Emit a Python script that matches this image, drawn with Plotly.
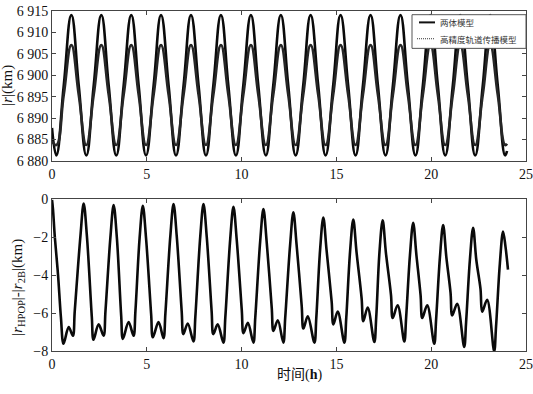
import plotly.graph_objects as go

# ---- top panel: orbit radius (km) ----
t_orbit = [0.00,
           0.23, 0.62, 1.02, 1.41,
           1.81, 2.20, 2.60, 2.99,
           3.39, 3.78, 4.18, 4.57,
           4.96, 5.36, 5.75, 6.15,
           6.54, 6.94, 7.33, 7.73,
           8.12, 8.51, 8.91, 9.30,
           9.70, 10.09, 10.49, 10.88,
           11.28, 11.67, 12.07, 12.46,
           12.85, 13.25, 13.64, 14.04,
           14.43, 14.83, 15.22, 15.62,
           16.01, 16.40, 16.80, 17.19,
           17.59, 17.98, 18.38, 18.77,
           19.17, 19.56, 19.96, 20.35,
           20.74, 21.14, 21.53, 21.93,
           22.32, 22.72, 23.11, 23.51,
           23.90, 24.00]

r_2b = [6887.7,
        6881.3, 6897.6, 6914.0, 6897.6,
        6881.3, 6897.6, 6914.0, 6897.6,
        6881.3, 6897.6, 6914.0, 6897.6,
        6881.3, 6897.6, 6914.0, 6897.6,
        6881.3, 6897.6, 6914.0, 6897.6,
        6881.3, 6897.6, 6914.0, 6897.6,
        6881.3, 6897.6, 6914.0, 6897.6,
        6881.3, 6897.6, 6914.0, 6897.6,
        6881.3, 6897.6, 6914.0, 6897.6,
        6881.3, 6897.6, 6914.0, 6897.6,
        6881.3, 6897.6, 6914.0, 6897.6,
        6881.3, 6897.6, 6914.0, 6897.6,
        6881.3, 6897.6, 6914.0, 6897.6,
        6881.3, 6897.6, 6914.0, 6897.6,
        6881.3, 6897.6, 6914.0, 6897.6,
        6881.3, 6882.3]

r_hpop = [6884.6,
          6883.7, 6895.4, 6907.0, 6895.4,
          6883.7, 6895.4, 6907.0, 6895.4,
          6883.7, 6895.4, 6907.0, 6895.4,
          6883.7, 6895.4, 6907.0, 6895.4,
          6883.7, 6895.4, 6907.0, 6895.4,
          6883.7, 6895.4, 6907.0, 6895.4,
          6883.7, 6895.4, 6907.0, 6895.4,
          6883.7, 6895.4, 6907.0, 6895.4,
          6883.7, 6895.4, 6907.0, 6895.4,
          6883.7, 6895.4, 6907.0, 6895.4,
          6883.7, 6895.4, 6907.0, 6895.4,
          6883.7, 6895.4, 6907.0, 6895.4,
          6883.7, 6895.4, 6907.0, 6895.4,
          6883.7, 6895.4, 6907.0, 6895.4,
          6883.7, 6895.4, 6907.0, 6895.4,
          6883.7, 6884.0]

# ---- bottom panel: |r_HPOP| - |r_2B| (km) ----
t_diff = [0.00, 0.05, 0.15, 0.32, 0.47, 0.61, 0.88, 1.10, 1.20, 1.50,
          1.67, 1.84, 2.10, 2.19, 2.46, 2.72, 2.82, 3.08,
          3.25, 3.42, 3.65, 3.74, 4.04, 4.30, 4.40, 4.62,
          4.79, 4.96, 5.23, 5.32, 5.62, 5.88, 5.98, 6.24,
          6.41, 6.58, 6.84, 6.93, 7.16, 7.46, 7.56, 7.82,
          7.99, 8.16, 8.42, 8.51, 8.74, 9.04, 9.14, 9.40,
          9.57, 9.74, 10.01, 10.10, 10.33, 10.62, 10.72, 10.98,
          11.15, 11.32, 11.59, 11.68, 11.91, 12.20, 12.30, 12.56,
          12.73, 12.90, 13.17, 13.26, 13.49, 13.84, 13.94, 14.14,
          14.31, 14.48, 14.75, 14.84, 15.07, 15.42, 15.52, 15.72,
          15.89, 16.06, 16.33, 16.42, 16.65, 17.00, 17.10, 17.27,
          17.44, 17.61, 17.88, 17.97, 18.23, 18.58, 18.68, 18.88,
          19.05, 19.22, 19.44, 19.53, 19.79, 20.16, 20.26, 20.46,
          20.63, 20.80, 21.02, 21.11, 21.37, 21.74, 21.84, 22.04,
          22.21, 22.38, 22.60, 22.69, 22.95, 23.32, 23.42, 23.62,
          23.79, 23.92, 24.05]

dr = [-0.02, -0.50, -2.00, -4.00, -6.20, -7.60, -6.72, -7.18, -5.88, -1.92,
      -0.22, -1.92, -6.19, -7.39, -6.58, -7.18, -5.88, -2.00,
      -0.30, -2.00, -6.14, -7.34, -6.46, -7.18, -5.88, -2.04,
      -0.34, -2.04, -6.06, -7.26, -6.46, -7.31, -6.01, -1.95,
      -0.25, -1.95, -5.89, -7.09, -6.53, -7.48, -6.18, -1.95,
      -0.25, -1.95, -5.89, -7.09, -6.58, -7.54, -6.24, -2.09,
      -0.39, -2.09, -5.84, -7.04, -6.50, -7.54, -6.24, -2.21,
      -0.51, -2.21, -5.72, -6.92, -6.36, -7.54, -6.24, -2.38,
      -0.68, -2.38, -5.60, -6.80, -6.16, -7.54, -6.24, -2.66,
      -0.96, -2.66, -5.38, -6.58, -5.91, -7.54, -6.24, -2.76,
      -1.06, -2.76, -5.21, -6.41, -5.69, -7.51, -6.21, -2.80,
      -1.10, -2.80, -5.04, -6.24, -5.57, -7.48, -6.18, -2.93,
      -1.23, -2.93, -5.04, -6.24, -5.57, -7.60, -6.30, -3.05,
      -1.35, -3.05, -4.91, -6.11, -5.49, -7.77, -6.47, -3.19,
      -1.49, -3.19, -4.71, -5.91, -5.28, -8.00, -6.70, -3.39,
      -1.69, -2.50, -3.70]

legend_names = ["两体模型", "高精度轨道传播模型"]
x_ticks = [0, 5, 10, 15, 20, 25]
top_y_ticks = [6880, 6885, 6890, 6895, 6900, 6905, 6910, 6915]
top_y_labels = ["6 880", "6 885", "6 890", "6 895", "6 900", "6 905", "6 910", "6 915"]
bot_y_ticks = [-8, -6, -4, -2, 0]
bot_y_labels = ["\u22128", "\u22126", "\u22124", "\u22122", "0"]

W, H = 533, 394
L, R = 52, 7
SERIF = "Liberation Serif, Times New Roman, serif"
CJK = "Liberation Serif, Noto Sans CJK SC, sans-serif"


def px_y(p):
    return 1 - p / H


def px_x(p):
    return (p - L) / (W - L - R)


fig = go.Figure()
fig.add_trace(go.Scatter(x=t_orbit, y=r_2b, mode="lines", name=legend_names[0],
                         line=dict(color="#0a0a0a", width=2.6, shape="spline", smoothing=1.3),
                         xaxis="x", yaxis="y", showlegend=False))
fig.add_trace(go.Scatter(x=t_orbit, y=r_hpop, mode="lines", name=legend_names[1],
                         line=dict(color="#262626", width=2.6, shape="spline", smoothing=1.3),
                         xaxis="x", yaxis="y", showlegend=False))
fig.add_trace(go.Scatter(x=t_diff, y=dr, mode="lines", showlegend=False,
                         line=dict(color="#0a0a0a", width=2.6, shape="spline", smoothing=1.0),
                         xaxis="x2", yaxis="y2"))

axis_common = dict(showline=True, linecolor="#444", linewidth=1, mirror="ticks",
                   ticks="inside", ticklen=4, tickcolor="#444", showgrid=False,
                   zeroline=False, ticklabeloverflow="allow",
                   tickfont=dict(family=SERIF, size=14, color="#111"))

fig.update_layout(
    width=W, height=H,
    margin=dict(l=L, r=R, t=0, b=0),
    paper_bgcolor="white", plot_bgcolor="white",
    xaxis=dict(domain=[0, 1], range=[0, 25], tickvals=x_ticks, anchor="y", **axis_common),
    yaxis=dict(domain=[px_y(160), px_y(4)], range=[6880, 6915], tickvals=top_y_ticks,
               ticktext=top_y_labels, anchor="x", **axis_common),
    xaxis2=dict(domain=[0, 1], range=[0, 25], tickvals=x_ticks, anchor="y2", **axis_common),
    yaxis2=dict(domain=[px_y(358), px_y(200)], range=[-8, 0], tickvals=bot_y_ticks,
                ticktext=bot_y_labels, anchor="x2", **axis_common),
    showlegend=False,
)

# legend box (drawn in paper coordinates)
fig.add_shape(type="rect", xref="paper", yref="paper",
              x0=px_x(412), x1=px_x(526), y0=px_y(43), y1=px_y(8),
              line=dict(color="#555", width=1), fillcolor="white", layer="above")
fig.add_shape(type="line", xref="paper", yref="paper",
              x0=px_x(419), x1=px_x(435), y0=px_y(16), y1=px_y(16),
              line=dict(color="#111", width=2), layer="above")
fig.add_shape(type="line", xref="paper", yref="paper",
              x0=px_x(417), x1=px_x(435), y0=px_y(33), y1=px_y(33),
              line=dict(color="#333", width=1, dash="1px,1px"), layer="above")
fig.add_annotation(text=legend_names[0], xref="paper", yref="paper",
                   x=px_x(438), y=px_y(16), showarrow=False, xanchor="left", yanchor="middle",
                   font=dict(family="Noto Sans CJK SC", size=8.5, color="#333"))
fig.add_annotation(text=legend_names[1], xref="paper", yref="paper",
                   x=px_x(438), y=px_y(33), showarrow=False, xanchor="left", yanchor="middle",
                   font=dict(family="Noto Sans CJK SC", size=8.5, color="#333"))

fig.add_annotation(text="|<i>r</i>|(km)", xref="paper", yref="paper",
                   x=px_x(8), y=px_y(82), textangle=-90, showarrow=False,
                   font=dict(family=SERIF, size=15, color="#111"),
                   xanchor="center", yanchor="middle")
fig.add_annotation(text="|<i>r</i><sub>HPOP</sub>|-|<i>r</i><sub>2B</sub>|(km)",
                   xref="paper", yref="paper",
                   x=px_x(18), y=px_y(292), textangle=-90, showarrow=False,
                   font=dict(family=SERIF, size=15, color="#111"),
                   xanchor="center", yanchor="middle")
fig.add_annotation(text="时间(<b>h</b>)", xref="paper", yref="paper",
                   x=px_x(299), y=px_y(383), showarrow=False,
                   font=dict(family=CJK, size=14, color="#111"),
                   xanchor="center", yanchor="middle")

fig.write_html("out.html")
